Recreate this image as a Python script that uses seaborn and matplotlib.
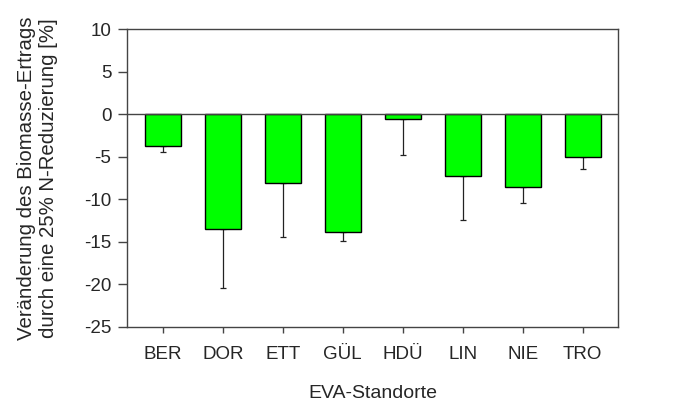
import numpy as np
import seaborn as sns
import matplotlib.pyplot as plt

sites = ["BER", "DOR", "ETT", "GÜL", "HDÜ", "LIN", "NIE", "TRO"]
change = [-3.7, -13.5, -8.1, -13.9, -0.55, -7.25, -8.6, -5.0]
err_low = [0.75, 6.9, 6.35, 1.05, 4.2, 5.25, 1.9, 1.45]
y_ticks = [10, 5, 0, -5, -10, -15, -20, -25]


def run_chart():
    sns.set_style('ticks')
    plt.rcParams['font.family'] = ['Liberation Sans', 'DejaVu Sans']

    fig = plt.figure(figsize=(6.74, 4.03), dpi=100)
    ax = fig.add_axes([0.189, 0.189, 0.728, 0.739])

    sns.barplot(x=sites, y=change, color='#00ff00', saturation=1,
                edgecolor='black', linewidth=1, width=0.6, ax=ax, zorder=2)

    pos = np.arange(len(sites))
    ax.errorbar(pos, change, yerr=[err_low, np.zeros(len(sites))], fmt='none',
                ecolor='#222222', elinewidth=0.9, capsize=2.2, capthick=0.9, zorder=1)

    ax.axhline(0, color='#444444', lw=1, zorder=3)

    ax.set_ylim(-25, 10)
    ax.set_xlim(-0.59, 7.59)
    ax.set_yticks(y_ticks)
    ax.set_yticklabels([str(t) for t in y_ticks])

    for s in ax.spines.values():
        s.set_color('#444444')
        s.set_linewidth(1)
        s.set_visible(True)

    ax.tick_params(axis='y', direction='out', length=6.5, width=1, color='#444444',
                   pad=5, labelsize=13.5, right=False)
    ax.tick_params(axis='x', direction='out', length=4.5, width=1, color='#444444',
                   pad=9, labelsize=13.5, top=False)

    ax.set_ylabel("Veränderung des Biomasse-Ertrags\ndurch eine 25% N-Reduzierung [%]",
                  fontsize=14.7, labelpad=19)
    ax.set_xlabel("EVA-Standorte", fontsize=14, labelpad=16)

    fig.savefig('out.png', dpi=100)


run_chart()
